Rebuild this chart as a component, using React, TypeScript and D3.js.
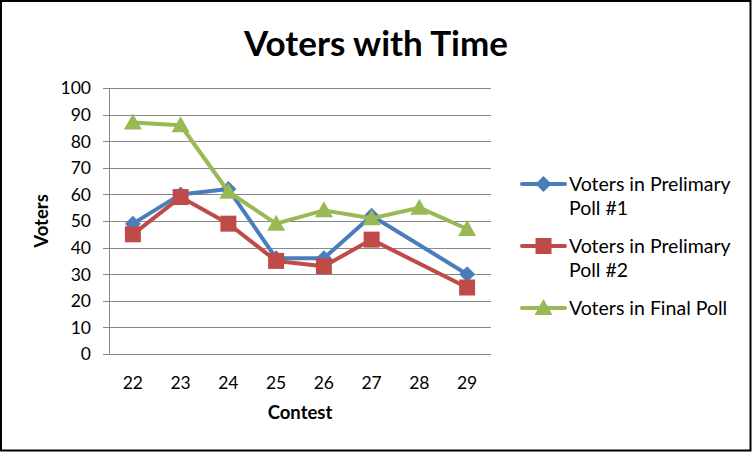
import * as d3 from "d3";
import React, { useEffect, useRef } from "react";

const contests = ["22", "23", "24", "25", "26", "27", "28", "29"];
const poll1: (number | null)[] = [49, 60, 62, 36, 36, 52, null, 30];
const poll2: (number | null)[] = [45, 59, 49, 35, 33, 43, null, 25];
const finalPoll: (number | null)[] = [87, 86, 61, 49, 54, 51, 55, 47];
const yTicks = [0, 10, 20, 30, 40, 50, 60, 70, 80, 90, 100];

const seriesList = [
  { name: ["Voters in Prelimary", "Poll #1"], values: poll1, color: "#4A7EBB", marker: "diamond" },
  { name: ["Voters in Prelimary", "Poll #2"], values: poll2, color: "#BE4B48", marker: "square" },
  { name: ["Voters in Final Poll"], values: finalPoll, color: "#98B954", marker: "triangle" },
];

const FONT = "Lato, 'Open Sans', sans-serif";

const App: React.FC = () => {
  const svgRef = useRef<SVGSVGElement | null>(null);

  useEffect(() => {
    if (!svgRef.current) return;
    const width = 752;
    const height = 452;
    const left = 109;
    const right = 491;
    const top = 88;
    const bottom = 354;

    const svg = d3.select(svgRef.current);
    svg.selectAll("*").remove();
    svg.attr("width", width).attr("height", height).style("font-family", FONT);

    svg.append("rect").attr("width", width).attr("height", height).attr("fill", "#fff");
    svg
      .append("rect")
      .attr("x", 1)
      .attr("y", 1)
      .attr("width", width - 2.5)
      .attr("height", height - 2.5)
      .attr("fill", "none")
      .attr("stroke", "#000")
      .attr("stroke-width", 2);

    const x = d3.scaleBand().domain(contests).range([left, right]);
    const y = d3.scaleLinear().domain([0, 100]).range([bottom, top]);
    const cx = (c: string) => x(c)! + x.bandwidth() / 2;

    // Title
    svg
      .append("text")
      .attr("x", 376)
      .attr("y", 56)
      .attr("text-anchor", "middle")
      .attr("font-weight", "bold")
      .attr("font-size", 35)
      .text("Voters with Time");

    // Gridlines
    svg
      .append("g")
      .selectAll("line")
      .data(yTicks.slice(1))
      .join("line")
      .attr("x1", left)
      .attr("x2", right)
      .attr("y1", (d) => Math.round(y(d)) + 0.5)
      .attr("y2", (d) => Math.round(y(d)) + 0.5)
      .attr("stroke", "#888")
      .attr("stroke-width", 1);

    // Y axis
    const yAxis = svg.append("g");
    yAxis
      .append("line")
      .attr("x1", left + 0.5)
      .attr("x2", left + 0.5)
      .attr("y1", top)
      .attr("y2", bottom)
      .attr("stroke", "#888");
    yAxis
      .selectAll("line.tick")
      .data(yTicks)
      .join("line")
      .attr("class", "tick")
      .attr("x1", left - 6)
      .attr("x2", left)
      .attr("y1", (d) => Math.round(y(d)) + 0.5)
      .attr("y2", (d) => Math.round(y(d)) + 0.5)
      .attr("stroke", "#888");
    yAxis
      .selectAll("text")
      .data(yTicks)
      .join("text")
      .attr("x", 91)
      .attr("y", (d) => y(d))
      .attr("dy", "0.36em")
      .attr("text-anchor", "end")
      .attr("font-size", 17.5)
      .text((d) => d);

    // X axis
    svg
      .append("line")
      .attr("x1", left)
      .attr("x2", right)
      .attr("y1", bottom + 0.5)
      .attr("y2", bottom + 0.5)
      .attr("stroke", "#888");
    svg
      .append("g")
      .selectAll("text")
      .data(contests)
      .join("text")
      .attr("x", (d) => cx(d))
      .attr("y", 389)
      .attr("text-anchor", "middle")
      .attr("font-size", 17.5)
      .text((d) => d);

    // Axis titles
    svg
      .append("text")
      .attr("x", (left + right) / 2)
      .attr("y", 419)
      .attr("text-anchor", "middle")
      .attr("font-weight", "bold")
      .attr("font-size", 18.5)
      .text("Contest");
    svg
      .append("text")
      .attr("transform", `translate(48,${(top + bottom) / 2}) rotate(-90)`)
      .attr("text-anchor", "middle")
      .attr("font-weight", "bold")
      .attr("font-size", 18.5)
      .text("Voters");

    const markerPath = (kind: string) => {
      if (kind === "diamond") return "M0,-8L8,0L0,8L-8,0Z";
      if (kind === "square") return "M-8,-8H8V8H-8Z";
      return "M0,-9L9,7H-9Z";
    };

    const line = d3
      .line<{ c: string; v: number }>()
      .x((d) => cx(d.c))
      .y((d) => y(d.v));

    seriesList.forEach((s) => {
      const pts = contests
        .map((c, i) => ({ c, v: s.values[i] }))
        .filter((p) => p.v !== null) as { c: string; v: number }[];
      const g = svg.append("g");
      g.append("path")
        .attr("d", line(pts)!)
        .attr("fill", "none")
        .attr("stroke", s.color)
        .attr("stroke-width", 4)
        .attr("stroke-linejoin", "round");
      g.selectAll("path.m")
        .data(pts)
        .join("path")
        .attr("class", "m")
        .attr("transform", (d) => `translate(${cx(d.c)},${y(d.v)})`)
        .attr("d", markerPath(s.marker))
        .attr("fill", s.color);
    });

    // Legend
    const legendY = [184, 246, 308];
    const legend = svg.append("g");
    seriesList.forEach((s, i) => {
      const g = legend.append("g").attr("transform", `translate(0,${legendY[i]})`);
      g.append("line")
        .attr("x1", 522)
        .attr("x2", 565)
        .attr("stroke", s.color)
        .attr("stroke-width", 4)
        .attr("stroke-linecap", "round");
      g.append("path")
        .attr("transform", "translate(543.5,0)")
        .attr("d", markerPath(s.marker))
        .attr("fill", s.color);
      s.name.forEach((t, j) => {
        g.append("text")
          .attr("x", 569)
          .attr("y", j * 24)
          .attr("dy", "0.36em")
          .attr("font-size", 19.5)
          .text(t);
      });
    });
  }, []);

  return (
    <svg ref={svgRef} style={{ position: "fixed", left: 0, top: 0, display: "block" }}></svg>
  );
};

export default App;
